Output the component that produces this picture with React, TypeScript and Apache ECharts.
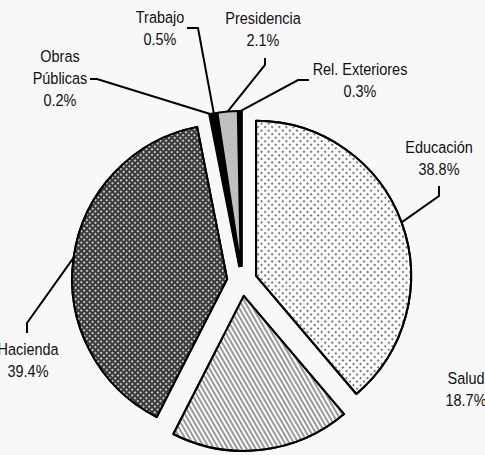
import React, { useEffect, useRef } from 'react';
import * as echarts from 'echarts';

const categories = ['Educación', 'Salud', 'Hacienda', 'Obras Públicas', 'Trabajo', 'Presidencia', 'Rel. Exteriores'];
const shares = [38.8, 18.7, 39.4, 0.2, 0.5, 2.1, 0.3];

// label layout: centre of the label block, bend point and end point of the leader line
const labelCentre: [number, number][] = [
  [439, 158], [466, 389], [28, 360], [60, 78], [160, 28], [263, 29], [360, 80],
];
const leaderBend: ([number, number] | null)[] = [
  [439, 196], null, [27, 323], [97, 79], [198, 28], [265, 65], [298, 80],
];
const leaderEnd: ([number, number] | null)[] = [
  [439, 186], null, [27, 333], [90, 79], [187, 28], [265, 58], [309, 80],
];

const PIE_CX = 242;
const PIE_CY = 281;
const PIE_R = 155;
const OFFSET = 15;
const FONT = '"Liberation Sans", Arial, sans-serif';

const styles: any[] = [
  {
    color: '#ffffff',
    decal: { symbol: 'rect', symbolSize: 1, color: '#7a7a7a', dashArrayX: [1.3, 2.2], dashArrayY: [1.3, 2.2], rotation: Math.PI / 4 },
  },
  {
    color: '#ffffff',
    decal: { symbol: 'rect', symbolSize: 1, color: '#9a9a9a', dashArrayX: [1, 0], dashArrayY: [1.6, 1.4], rotation: Math.PI / 3 },
  },
  {
    color: '#3a3a3a',
    decal: { symbol: 'rect', symbolSize: 1, color: '#c4c4c4', dashArrayX: [1.2, 1.9], dashArrayY: [1.2, 1.9], rotation: Math.PI / 4 },
  },
  { color: '#000000' },
  { color: '#000000' },
  { color: '#c0c0c0' },
  { color: '#000000' },
];

function labelText(name: string, v: number) {
  return `${name === 'Obras Públicas' ? 'Obras\nPúblicas' : name}\n${v}%`;
}

export default function App() {
  const ref = useRef<HTMLDivElement>(null);
  useEffect(() => {
    if (!ref.current) return;
    const chart = echarts.init(ref.current, null, { renderer: 'svg' });
    const total = shares.reduce((a, b) => a + b, 0);
    const data = categories.map((name, i) => ({
      name,
      value: shares[i],
      selected: true,
      itemStyle: { ...styles[i], borderColor: '#000', borderWidth: 2 },
    }));

    // leader start: outer edge of each (exploded) slice at its bisector
    const graphics: any[] = [];
    let cum = 0;
    categories.forEach((name, i) => {
      const mid = (cum + shares[i] / 2) / total;
      cum += shares[i];
      const th = mid * Math.PI * 2;
      const dx = Math.sin(th);
      const dy = -Math.cos(th);
      const start = [PIE_CX + dx * (PIE_R + OFFSET), PIE_CY + dy * (PIE_R + OFFSET)];
      const b = leaderBend[i];
      const e = leaderEnd[i];
      if (b && e) {
        graphics.push({
          type: 'polyline',
          silent: true,
          z: 10,
          shape: { points: [start, b, e] },
          style: { stroke: '#000', lineWidth: 2, fill: null },
        });
      }
      graphics.push({
        type: 'text',
        silent: true,
        z: 11,
        x: labelCentre[i][0],
        y: labelCentre[i][1],
        scaleX: 0.85,
        style: {
          text: labelText(name, shares[i]),
          x: 0,
          y: 0,
          fill: '#111',
          fontSize: 17,
          fontFamily: FONT,
          lineHeight: 22,
          align: 'center',
          verticalAlign: 'middle',
          textAlign: 'center',
          textVerticalAlign: 'middle',
        },
      });
    });

    chart.setOption({
      animation: false,
      backgroundColor: '#f8f8f8',
      series: [
        {
          type: 'pie',
          center: [PIE_CX, PIE_CY],
          radius: PIE_R,
          startAngle: 90,
          clockwise: true,
          selectedMode: 'multiple',
          selectedOffset: OFFSET,
          avoidLabelOverlap: false,
          label: { show: false },
          labelLine: { show: false },
          emphasis: { disabled: true },
          select: { itemStyle: { borderColor: '#000', borderWidth: 2 } },
          data,
        },
      ],
      graphic: { elements: graphics },
    });
    return () => chart.dispose();
  }, []);
  return <div ref={ref} style={{ position: 'fixed', left: 0, top: 0, width: 485, height: 455 }} />;
}
